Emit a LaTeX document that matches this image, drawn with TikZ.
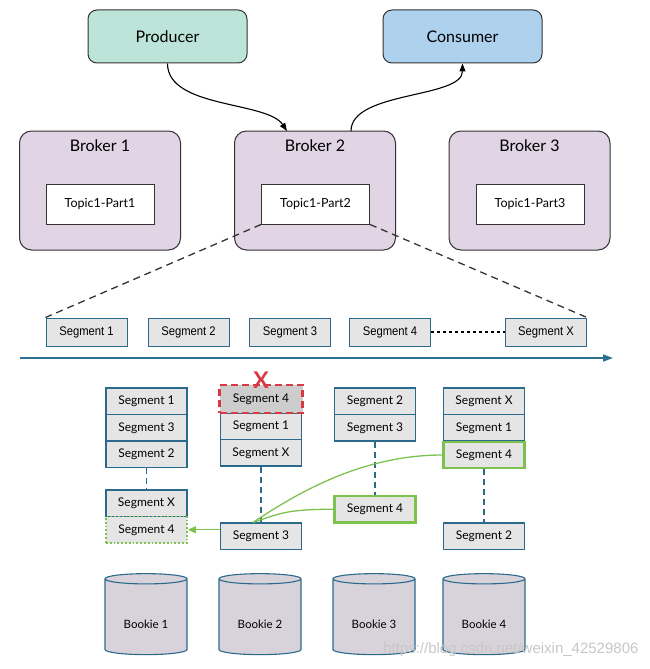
\documentclass[tikz,border=0pt]{standalone}
\usepackage{fontspec}
\setmainfont{Lato}
\newfontfamily\segfont[FakeStretch=0.9]{Liberation Sans}
\newfontfamily\wmfont{Liberation Sans}
\usetikzlibrary{arrows.meta,shapes.geometric}
\definecolor{prodfill}{HTML}{BCE4D8}
\definecolor{consfill}{HTML}{AED1EE}
\definecolor{brokerfill}{HTML}{E1D4E4}
\definecolor{segblue}{HTML}{2B6A8C}
\definecolor{seggray}{HTML}{E5E5E5}
\definecolor{strikegray}{HTML}{CDCDCD}
\definecolor{lgreen}{HTML}{7DC14E}
\definecolor{xred}{HTML}{D83A44}
\definecolor{bookiefill}{HTML}{D8D3DA}
\definecolor{axisblue}{HTML}{2E7090}
\definecolor{edge}{HTML}{333333}
\tikzset{
  topbox/.style={draw=edge, line width=1pt, rounded corners=9pt, minimum width=159pt, minimum height=53pt, font=\fontsize{16}{19}\selectfont},
  brokerbox/.style={draw=edge, fill=brokerfill, line width=1pt, rounded corners=12pt, minimum width=161pt, minimum height=119pt},
  brokerlabel/.style={anchor=north, yshift=-6pt, font=\fontsize{16}{19}\selectfont},
  topicbox/.style={draw=edge, fill=white, line width=1pt, minimum width=108pt, minimum height=40pt, font=\fontsize{12.5}{15}\selectfont},
  segtop/.style={draw=segblue, fill=seggray, line width=1pt, minimum width=81pt, minimum height=28pt, inner sep=0pt, font=\segfont\fontsize{12.5}{14}\selectfont},
  segbox/.style={draw=segblue, fill=seggray, line width=1.1pt, minimum width=81pt, minimum height=26.5pt, inner sep=0pt, font=\fontsize{12}{14}\selectfont},
  greenbox/.style={segbox, draw=lgreen, line width=2.3pt},
  greendot/.style={segbox, draw=lgreen, line width=1.8pt, dash pattern=on 1.8pt off 2pt},
  strikebox/.style={segbox, fill=strikegray, draw=xred, line width=2.4pt, dash pattern=on 7pt off 4pt, minimum width=83pt, minimum height=28pt},
  zoomline/.style={draw=edge, line width=1.3pt, dash pattern=on 7pt off 5pt},
  vdash/.style={draw=segblue, line width=1.2pt, dash pattern=on 6pt off 4pt},
  flow/.style={draw=black, line width=1.1pt, -{Triangle[length=8pt,width=6pt]}},
  greenline/.style={draw=lgreen, line width=1.3pt},
  bookie/.style={shape=cylinder, shape border rotate=90, aspect=0.2, draw=segblue, fill=bookiefill, line width=1.1pt, minimum width=82pt, minimum height=81pt, text height=22pt, font=\fontsize{11.5}{13}\selectfont}
}
\begin{document}
\begin{tikzpicture}[x=1pt,y=-1pt]
\useasboundingbox (0,0) rectangle (650,669);

% top
\node[topbox, fill=prodfill] (prod) at (167.5,36.5) {Producer};
\node[topbox, fill=consfill] (cons) at (462.5,36.5) {Consumer};

\node[brokerbox, label={[brokerlabel]north:Broker 1}] (b1) at (100,190.5) {};
\node[brokerbox, label={[brokerlabel]north:Broker 2}] (b2) at (315,190.5) {};
\node[brokerbox, label={[brokerlabel]north:Broker 3}] (b3) at (529.5,190.5) {};

\node[topicbox] (t1) at (100,204) {Topic1-Part1};
\node[topicbox] (t2) at (315.5,204) {Topic1-Part2};
\node[topicbox] (t3) at (530,204) {Topic1-Part3};

\coordinate (b2in) at (287,131);
\coordinate (b2out) at (351,131);
\draw[flow] (prod.south) .. controls +(0,45) and +(-20,-30) .. (b2in);
\draw[flow] (b2out) .. controls +(0,-40) and +(0,35) .. (cons.south);

% segment row
\node[segtop] (s1) at (86.5,332) {Segment 1};
\node[segtop] (s2) at (188.5,332) {Segment 2};
\node[segtop] (s3) at (290,332) {Segment 3};
\node[segtop] (s4) at (390,332) {Segment 4};
\node[segtop] (sx) at (546,332) {Segment X};

\draw[zoomline] (t2.south west) -- (s1.north west);
\draw[zoomline] (t2.south east) -- (sx.north east);
\draw[draw=black, line width=1.2pt, dash pattern=on 3pt off 3pt] (s4.east) -- (sx.west);

\coordinate (axl) at (20,358);
\coordinate (axr) at (613,358);
\draw[draw=axisblue, line width=1.5pt, -{Triangle[length=10pt,width=7pt]}] (axl) -- (axr);

% column 1
\node[segbox] (c1a) at (146.5,401.25) {Segment 1};
\node[segbox] (c1b) at (146.5,427.75) {Segment 3};
\node[segbox] (c1c) at (146.5,454.25) {Segment 2};
\node[segbox] (c1d) at (146.5,503.25) {Segment X};
\node[greendot] (c1e) at (146.5,529.75) {Segment 4};

% column 2
\node[segbox] (c2b) at (261,426.25) {Segment 1};
\node[segbox] (c2c) at (261,452.75) {Segment X};
\node[strikebox] (c2a) at (261,399) {Segment 4};
\node[segbox] (c2d) at (261,536.25) {Segment 3};
\node[text=xred, font=\fontsize{23}{25}\bfseries\selectfont, inner sep=0pt] (redx) at (261,380) {X};

% column 3
\node[segbox] (c3a) at (375,401.25) {Segment 2};
\node[segbox] (c3b) at (375,427.75) {Segment 3};
\node[greenbox] (c3c) at (375,509.25) {Segment 4};

% column 4
\node[segbox] (c4a) at (484,401.25) {Segment X};
\node[segbox] (c4b) at (484,427.75) {Segment 1};
\node[greenbox] (c4c) at (484,455) {Segment 4};
\node[segbox] (c4d) at (484,536.25) {Segment 2};

% vertical dashed links
\draw[vdash] (c1c.south) -- (c1d.north);
\draw[vdash] (c2c.south) -- (c2d.north);
\draw[vdash] (c3b.south) -- (c3c.north);
\draw[vdash] (c4c.south) -- (c4d.north);

% green replication
\coordinate (gm) at ([xshift=-8pt]c2d.north);
\draw[greenline] (c4c.west) .. controls +(-80,0) and +(45,-30) .. (gm);
\draw[greenline] (c3c.west) .. controls +(-50,0) and +(25,-8) .. (gm);
\draw[greenline, -{Triangle[length=8pt,width=7pt]}] (c2d.west |- c1e.east) -- (c1e.east);

% bookies
\node[bookie] (k1) at (146,618) {Bookie 1};
\node[bookie] (k2) at (260,618) {Bookie 2};
\node[bookie] (k3) at (374,618) {Bookie 3};
\node[bookie] (k4) at (484,618) {Bookie 4};

\node[text=black!22, font=\wmfont\fontsize{15}{17}\selectfont, anchor=east] (wm) at (642,650) {https://blog.csdn.net/weixin\_42529806};
\end{tikzpicture}
\end{document}
